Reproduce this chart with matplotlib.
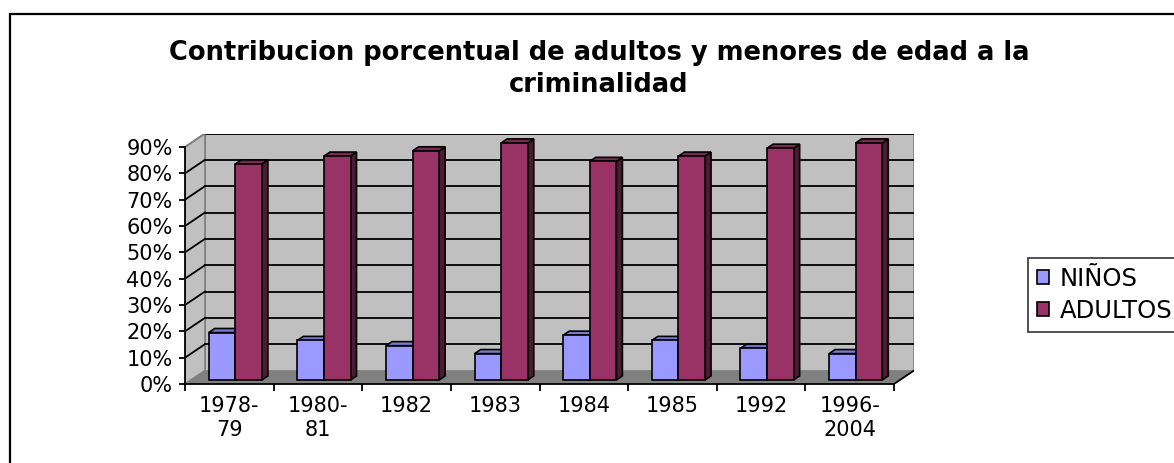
import matplotlib
matplotlib.use('Agg')
import matplotlib.pyplot as plt
from matplotlib.patches import Polygon, Rectangle, Patch

plt.rcParams['font.family'] = ['DejaVu Sans']

# datos
categorias = ['1978-\n79', '1980-\n81', '1982', '1983', '1984', '1985', '1992', '1996-\n2004']
ninos = [18, 15, 13, 10, 17, 15, 12, 10]
adultos = [82, 85, 87, 90, 83, 85, 88, 90]
series = ['NIÑOS', 'ADULTOS']
niveles = [0, 10, 20, 30, 40, 50, 60, 70, 80, 90]

# colores estilo excel
c_front = ['#9999FF', '#993366']
c_top = ['#7A7ACC', '#7A2952']
c_side = ['#4D4D80', '#4D1A33']

W, H = 1174, 463
fig = plt.figure(figsize=(W / 100, H / 100), dpi=100)

# geometria (pixeles)
x0, y0 = 185, 384          # origen frente
pcat = (894 - 185) / 8.0   # px por categoria
pval = (384 - 147) / 90.0  # px por unidad %
DX = 20 / pcat             # profundidad en datos
DY = 13.5 / pval
ymax = 90
n = len(categorias)

ax_w = (n + DX) * pcat
ax_h = (ymax + DY) * pval
ax = fig.add_axes([x0 / W, (H - y0) / H, ax_w / W, ax_h / H])
ax.set_xlim(0, n + DX)
ax.set_ylim(0, ymax + DY)
ax.patch.set_visible(False)

# paredes y piso
ax.add_patch(Rectangle((DX, DY), n, ymax, facecolor='#C0C0C0', edgecolor='#808080', lw=1.2, zorder=0))
ax.add_patch(Polygon([(0, 0), (DX, DY), (DX, ymax + DY), (0, ymax)], closed=True,
                     facecolor='#C0C0C0', edgecolor='#808080', lw=1.2, zorder=0))
ax.add_patch(Polygon([(0, 0), (n, 0), (n + DX, DY), (DX, DY)], closed=True,
                     facecolor='#808080', edgecolor='none', zorder=0.5))
ax.plot([n, n + DX], [0, DY], color='k', lw=1.3, zorder=0.6, solid_capstyle='butt')

for v in niveles[1:]:
    ax.plot([DX, n + DX], [v + DY, v + DY], color='k', lw=1.3, zorder=1)
    ax.plot([0, DX], [v, v + DY], color='k' if v < ymax else '#808080', lw=1.3, zorder=1)

# barras
f0 = 0.3   # posicion frontal de la barra en la profundidad
fb = 0.3   # profundidad de la barra
w = 0.3
gap = (1 - 2 * w) / 2
base = f0 * DY
z = 2
for i in range(n):
    for s, vals in enumerate([ninos, adultos]):
        v = vals[i]
        x = i + f0 * DX + gap + s * w
        ddx, ddy = fb * DX, fb * DY
        ax.add_patch(Polygon([(x + w, base), (x + w + ddx, base + ddy), (x + w + ddx, base + v + ddy), (x + w, base + v)],
                             closed=True, facecolor=c_side[s], edgecolor='k', lw=1.2, zorder=z))
        ax.add_patch(Polygon([(x, base + v), (x + w, base + v), (x + w + ddx, base + v + ddy), (x + ddx, base + v + ddy)],
                             closed=True, facecolor=c_top[s], edgecolor='k', lw=1.2, zorder=z))
        ax.bar(x, v, width=w, bottom=base, align='edge', color=c_front[s], edgecolor='k', lw=1.2, zorder=z + 0.5)
        z += 1

# ejes
for sp in ['top', 'right']:
    ax.spines[sp].set_visible(False)
ax.spines['left'].set_bounds(0, ymax)
ax.spines['bottom'].set_bounds(0, n)
ax.spines['left'].set_linewidth(1.3)
ax.spines['bottom'].set_linewidth(1.3)
ax.spines['left'].set_zorder(50)
ax.spines['bottom'].set_zorder(50)

fs = 15
ax.set_yticks(niveles)
ax.set_yticklabels(['%d%%' % v for v in niveles], fontsize=fs)
ax.tick_params(axis='y', direction='out', length=4, width=1.3, pad=5)

ax.set_xticks(range(n + 1))
ax.set_xticklabels([''] * (n + 1))
ax.set_xticks([i + 0.5 for i in range(n)], minor=True)
ax.set_xticklabels(categorias, minor=True, fontsize=fs, linespacing=1.25)
ax.tick_params(axis='x', which='major', direction='out', length=5, width=1.3)
ax.tick_params(axis='x', which='minor', length=0, pad=8.5)

# titulo
fig.text(599 / W, 1 - 69 / H, 'Contribucion porcentual de adultos y menores de edad a la\ncriminalidad',
         ha='center', va='center', fontsize=18.5, fontweight='bold', linespacing=1.3)

# marco exterior
fig.patches.append(Rectangle((10 / W, -0.05), 1.2, 1 - 14 / H + 0.05, transform=fig.transFigure,
                             fill=False, edgecolor='k', lw=1.6))

# leyenda
handles = [Patch(facecolor=c_front[s], edgecolor='k', lw=1.2) for s in range(2)]
leg = fig.legend(handles, series, loc='upper left', bbox_to_anchor=(1028 / W, 1 - 258 / H),
                 fontsize=17.5, frameon=True, fancybox=False, handlelength=0.5, handleheight=0.5,
                 handletextpad=0.45, borderpad=0.35, labelspacing=0.35, borderaxespad=0)
leg.get_frame().set_edgecolor('k')
leg.get_frame().set_linewidth(1.2)

fig.savefig('out.png', dpi=100)
